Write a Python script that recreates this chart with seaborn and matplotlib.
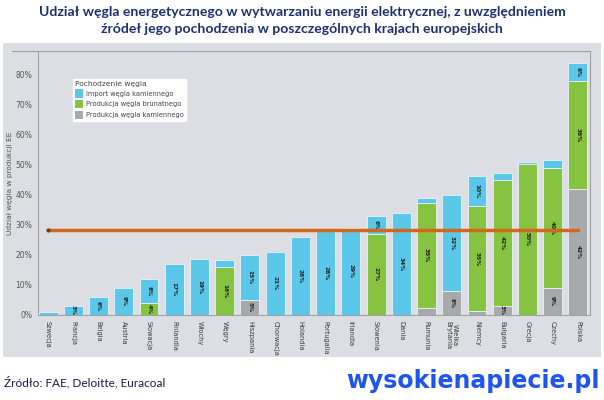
import pandas as pd
import seaborn as sns
import matplotlib.pyplot as plt
from matplotlib.patches import Rectangle
from matplotlib.lines import Line2D

# --- DANE ---
kraje = ['Szwecja', 'Francja', 'Belgia', 'Austria', 'Słowacja', 'Finlandia', 'Włochy',
         'Węgry', 'Hiszpania', 'Chorwacja', 'Holandia', 'Portugalia', 'Irlandia',
         'Słowenia', 'Dania', 'Rumunia', 'Wielka\nBrytania', 'Niemcy', 'Bułgaria',
         'Grecja', 'Czechy', 'Polska']
kamienny = [0, 0, 0, 0, 0, 0, 0, 0, 5, 0, 0, 0, 0, 0, 0, 2.5, 8, 1.2, 3, 0, 9, 42]
brunatny = [0, 0, 0, 0, 4, 0, 0, 16, 0, 0, 0, 0, 0, 27, 0, 35, 0, 35, 42, 50.5, 40, 36]
import_ = [1, 3, 6, 9, 8, 17, 18.6, 2.5, 15, 21, 26, 28, 29, 6, 34, 1.5, 32, 10, 2.5, 0.5, 2.8, 6]
srednia = 28.2

kolory = {'import': '#5bc8e9', 'brunatny': '#86c341', 'kamienny': '#a7a9ab'}
tlo = '#dcdee4'

df = pd.DataFrame({'kraj': kraje, 'kamienny': kamienny,
                   'brunatny': brunatny, 'import': import_})

sns.set_style('white')
plt.rcParams['font.family'] = ['DejaVu Sans']

fig = plt.figure(figsize=(6.04, 4.0), dpi=100)
fig.patch.set_facecolor('white')
# szare tlo panelu
fig.patches.append(Rectangle((3 / 604, 1 - 357 / 400), 598 / 604, 314 / 400,
                             transform=fig.transFigure, facecolor=tlo,
                             edgecolor='none', zorder=-1))
ax = fig.add_axes([38 / 604, 85 / 400, 552 / 604, 264 / 400])
ax.set_facecolor(tlo)

# --- SŁUPKI SKUMULOWANE ---
dol = [0] * len(kraje)
for kol in ['kamienny', 'brunatny', 'import']:
    sns.barplot(data=df, x='kraj', y=kol, bottom=dol, color=kolory[kol],
                width=0.75, ax=ax, saturation=1, linewidth=0.6,
                edgecolor='#e8f4f8', zorder=2)
    for i, v in enumerate(df[kol]):
        if v >= 3:
            ax.text(i, dol[i] + v / 2, f'{v:.0f}%', rotation=-90, ha='center',
                    va='center', fontsize=4.2, fontweight='bold', color='#222222',
                    zorder=4)
    dol = [d + v for d, v in zip(dol, df[kol])]

# linia średniej
sns.lineplot(x=list(range(len(kraje))), y=[srednia] * len(kraje), ax=ax,
             color='#d2681c', linewidth=2.5, zorder=5)
ax.plot(0, srednia, marker='o', markersize=2, color='#7a3a10', zorder=6)

ax.set_xlim(-0.4, 21.48)
ax.set_ylim(0, 88)
ax.set_yticks(range(0, 90, 10))
ax.set_yticklabels([f'{t}%' for t in range(0, 90, 10)], fontsize=5.5, color='#555555')
ax.set_xticks(range(len(kraje)))
ax.set_xticklabels(kraje, rotation=-90, fontsize=4.8, color='#3a3a3a',
                   va='top', ha='center', linespacing=1.0)
ax.set_xticks([i + 0.5 for i in range(len(kraje) - 1)], minor=True)
ax.tick_params(axis='x', which='major', length=0, pad=4)
ax.tick_params(axis='x', which='minor', length=3, color='#999999', width=0.6)
ax.tick_params(axis='y', length=3, color='#999999', width=0.6, pad=1)
ax.set_xlabel('')
ax.set_ylabel('Udział węgla w produkcji EE', fontsize=5.3, color='#555555', labelpad=8)
ax.yaxis.set_label_coords(-0.045, 0.5)

for s in ['left', 'bottom', 'right', 'top']:
    ax.spines[s].set_visible(True)
    ax.spines[s].set_color('#a0a2a6')
    ax.spines[s].set_linewidth(0.8)
# gorna linia wysunieta w lewo
fig.add_artist(Line2D([12 / 604, 38 / 604], [1 - 51 / 400] * 2, color='#a0a2a6',
                      linewidth=0.8, transform=fig.transFigure))

# --- LEGENDA ---
uchwyty = [Rectangle((0, 0), 1, 1, facecolor=kolory[k], edgecolor='none')
           for k in ['import', 'brunatny', 'kamienny']]
etykiety = ['Import węgla kamiennego', 'Produkcja węgla brunatnego',
            'Produkcja węgla kamiennego']
leg = ax.legend(uchwyty, etykiety, title='Pochodzenie węgla', loc='upper left',
                bbox_to_anchor=(0.063, 0.895), fontsize=4.8, title_fontsize=5.4,
                frameon=True, fancybox=False, edgecolor='white', framealpha=1,
                handlelength=1.3, handleheight=1.5, handletextpad=0.4,
                labelspacing=0.4, borderpad=0.3, borderaxespad=0)
leg._legend_box.align = 'left'
leg.get_title().set_color('#444444')
for t in leg.get_texts():
    t.set_color('#444444')

# --- TYTUŁ I PODPISY ---
fig.text(0.5, 1 - 12 / 400, 'Udział węgla energetycznego w wytwarzaniu energii elektrycznej, z uwzględnieniem',
         ha='center', va='center', fontsize=10.1, fontweight='bold', color='#1f3070',
         family='Lato')
fig.text(0.5, 1 - 29 / 400, 'źródeł jego pochodzenia w poszczególnych krajach europejskich',
         ha='center', va='center', fontsize=10.1, fontweight='bold', color='#1f3070',
         family='Lato')
fig.text(4 / 604, 1 - 382 / 400, 'Źródło: FAE, Deloitte, Euracoal', ha='left',
         va='center', fontsize=8.5, color='#1a1a50', family='Lato')
fig.text(600 / 604, 1 - 381 / 400, 'wysokienapiecie.pl', ha='right', va='center',
         fontsize=17, fontweight='bold', color='#1e55f0', family='DejaVu Sans')

fig.savefig('out.png', dpi=100, facecolor='white')
